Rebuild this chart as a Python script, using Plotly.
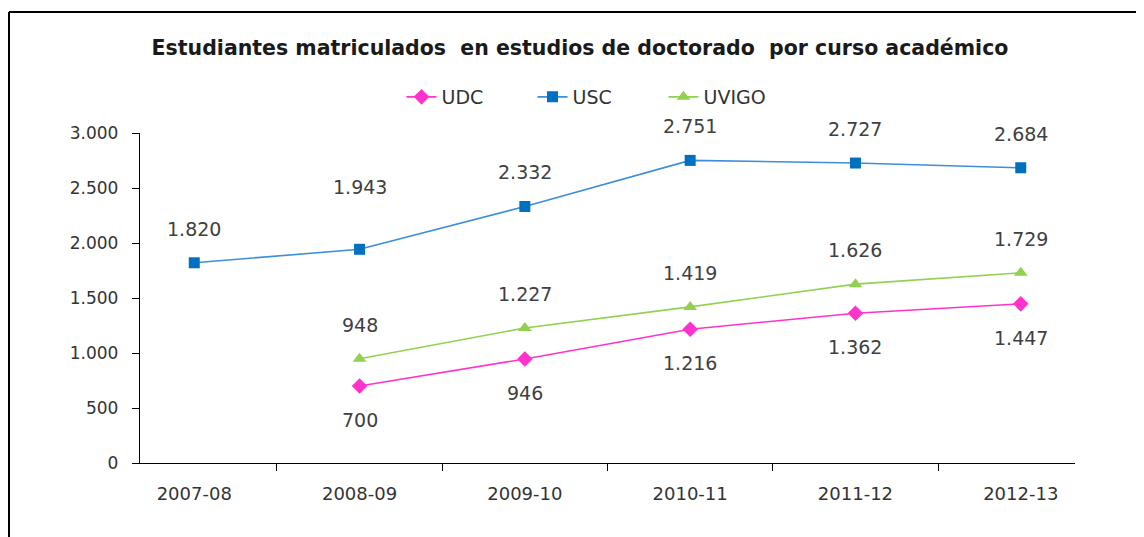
import plotly.graph_objects as go

# ---------------------------------------------------------------------------
# Data
# ---------------------------------------------------------------------------
COURSES = ["2007-08", "2008-09", "2009-10", "2010-11", "2011-12", "2012-13"]
UDC = [None, 700, 946, 1216, 1362, 1447]
USC = [1820, 1943, 2332, 2751, 2727, 2684]
UVIGO = [None, 948, 1227, 1419, 1626, 1729]
Y_TICKS = [0, 500, 1000, 1500, 2000, 2500, 3000]

TITLE = "Estudiantes matriculados \u00a0en estudios de doctorado \u00a0por curso académico"

FONT = "DejaVu Sans"
TEXT = "#404040"

# series: name, values, line colour, marker colour, symbol, marker size, label side
SERIES = [
    ("UDC", UDC, "#FF33CC", "#FF33CC", "diamond", 12, -1),
    ("USC", USC, "#3C8EDB", "#0070C0", "square", 11, 1),
    ("UVIGO", UVIGO, "#92D050", "#92D050", "triangle-up", 12, 1),
]

# one label was moved by hand in the original
LABEL_NUDGE = {("USC", "2008-09"): 62}


def fmt(v):
    return format(v, ",").replace(",", ".")


fig = go.Figure()
annotations = []

for name, vals, lc, mc, sym, msize, side in SERIES:
    fig.add_trace(go.Scatter(
        x=COURSES,
        y=vals,
        name=name,
        mode="lines+markers",
        line=dict(color=lc, width=1.6),
        marker=dict(color=mc, symbol=sym, size=msize),
        connectgaps=False,
    ))
    for c, v in zip(COURSES, vals):
        if v is None:
            continue
        shift = LABEL_NUDGE.get((name, c), 34 * side)
        annotations.append(dict(
            x=c, y=v, xref="x", yref="y",
            text=fmt(v), showarrow=False,
            yshift=shift,
            font=dict(family=FONT, size=19, color=TEXT),
        ))

# page body has an 8px margin, so pixel positions are shifted by that
OFF = 8
W, H = 1144, 537
pl, pr, pt, pb = 140 - OFF, 1075 - OFF, 133 - OFF, 463 - OFF


def px_x(x):
    return (x - OFF - pl) / (pr - pl)


def px_y(y):
    return (pb - (y - OFF)) / (pb - pt)


# chart frame (left and top edges of the pasted chart box)
shapes = [
    dict(type="line", xref="paper", yref="paper",
         x0=px_x(9), x1=px_x(9), y0=px_y(12), y1=px_y(560),
         line=dict(color="black", width=2)),
    dict(type="line", xref="paper", yref="paper",
         x0=px_x(9), x1=px_x(1160), y0=px_y(12), y1=px_y(12),
         line=dict(color="black", width=2)),
]

fig.update_layout(
    width=W,
    height=H,
    separators=",.",
    plot_bgcolor="white",
    paper_bgcolor="white",
    font=dict(family=FONT, color=TEXT),
    margin=dict(l=pl, r=W - pr, t=pt, b=H - pb, pad=0),
    title=dict(
        text=f"<b>{TITLE}</b>",
        font=dict(family=FONT, size=20.5, color="#1a1a1a"),
        x=(580 - OFF) / W, xanchor="center",
        y=1 - (48 - OFF) / H, yanchor="middle",
    ),
    legend=dict(
        orientation="h",
        x=px_x(598), xanchor="center",
        y=px_y(97), yanchor="middle",
        font=dict(family=FONT, size=19, color="#333333"),
        bgcolor="rgba(0,0,0,0)",
        entrywidth=86,
    ),
    xaxis=dict(
        type="category",
        categoryorder="array",
        categoryarray=COURSES,
        showline=True,
        linecolor="black",
        linewidth=1.3,
        ticks="outside",
        tickson="boundaries",
        ticklen=7,
        tickwidth=1.3,
        tickcolor="black",
        showgrid=False,
        ticklabelstandoff=14,
        tickfont=dict(family=FONT, size=18, color="#333333"),
    ),
    yaxis=dict(
        range=[0, 3000],
        tickvals=Y_TICKS,
        tickformat=",d",
        showline=True,
        linecolor="black",
        linewidth=1.3,
        ticks="outside",
        ticklen=7,
        tickwidth=1.3,
        tickcolor="black",
        showgrid=False,
        zeroline=False,
        ticklabelstandoff=10,
        tickfont=dict(family=FONT, size=17, color="#333333"),
    ),
    annotations=annotations,
    shapes=shapes,
)

fig.write_html("out.html")
